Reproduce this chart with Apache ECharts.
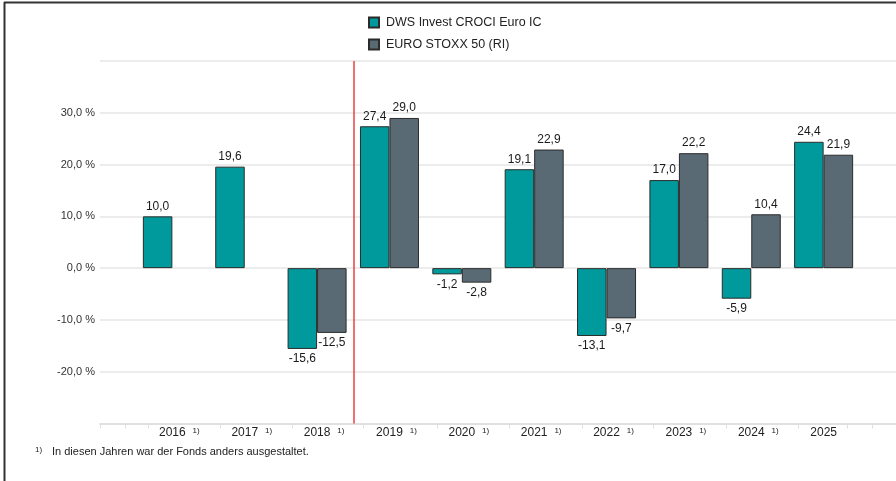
<!DOCTYPE html>
<html>
<head>
<meta charset="utf-8">
<script src="https://cdn.jsdelivr.net/npm/echarts@6/dist/echarts.min.js"></script>
<style>
  html, body { margin: 0; padding: 0; background: #fff; }
  #chart { width: 896px; height: 481px; }
</style>
</head>
<body>
<div id="chart"></div>
<script>
const years = ['2016', '2017', '2018', '2019', '2020', '2021', '2022', '2023', '2024', '2025'];
const footnoted = [true, true, true, true, true, true, true, true, true, false];
const fund = [10.0, 19.6, -15.6, 27.4, -1.2, 19.1, -13.1, 17.0, -5.9, 24.4];
const benchmark = [null, null, -12.5, 29.0, -2.8, 22.9, -9.7, 22.2, 10.4, 21.9];
const yTicks = [-20, -10, 0, 10, 20, 30];
// red divider sits between 2018 and 2019
const dividerAt = 2.5;

const fontFamily = '"Liberation Sans", Arial, sans-serif';
const fmt = v => v.toFixed(1).replace('.', ',');

const chart = echarts.init(document.getElementById('chart'));

const barLabel = {
    show: true,
    position: 'outside',
    distance: 4,
    color: '#1a1a1a',
    fontSize: 12,
    fontFamily: fontFamily,
    formatter: p => fmt(p.value[1])
};

chart.setOption({
    animation: false,
    textStyle: { fontFamily: fontFamily },
    legend: {
        data: ['DWS Invest CROCI Euro IC', 'EURO STOXX 50 (RI)'],
        orient: 'vertical',
        left: 368,
        top: 16,
        padding: 0,
        itemWidth: 10,
        itemHeight: 10,
        itemGap: 9,
        icon: 'rect',
        textStyle: { fontSize: 12.5, color: '#222', padding: [0, 0, 0, 2] }
    },
    grid: { left: 100, right: 0, top: 61, bottom: 57.5, outerBoundsMode: 'none' },
    xAxis: {
        type: 'value',
        min: -1,
        max: 10,
        splitLine: { show: false },
        axisLine: { show: true, onZero: false, lineStyle: { color: '#e0e0e0', width: 2 } },
        axisTick: {
            show: true,
            length: 5,
            lineStyle: { color: '#e0e0e0', width: 1 },
            customValues: [-1, -0.655, -0.337, 0.658, 1.653, 2.634, 3.657, 4.66, 5.66, 6.64, 7.66, 8.65, 9.32, 9.67]
        },
        axisLabel: {
            margin: 3,
            customValues: years.map((y, i) => i),
            formatter: v => {
                const i = Math.round(v);
                return footnoted[i] ? '{pad|}{y|' + years[i] + '}{s|1)}' : '{y|' + years[i] + '}';
            },
            rich: {
                y: { fontSize: 12, color: '#222', fontFamily: fontFamily },
                pad: { width: 14 },
                s: { fontSize: 8, color: '#222', width: 14, align: 'right', verticalAlign: 'top', padding: [0, 0, 4, 0], fontFamily: fontFamily }
            }
        }
    },
    yAxis: {
        type: 'value',
        min: -30,
        max: 40,
        interval: 10,
        axisLine: { show: false },
        axisTick: { show: false },
        splitLine: { lineStyle: { color: '#e6e6e6', width: 1.5 } },
        axisLabel: {
            margin: 5,
            fontSize: 11,
            color: '#333',
            formatter: v => yTicks.includes(v) ? fmt(v) + ' %' : ''
        }
    },
    series: [
        {
            name: 'DWS Invest CROCI Euro IC',
            type: 'bar',
            barWidth: 29.5,
            barGap: '0%',
            data: fund.map((v, i) => [i, v]),
            itemStyle: { color: '#009a9c', borderColor: '#2b2b2b', borderWidth: 1 },
            label: barLabel
        },
        {
            name: 'EURO STOXX 50 (RI)',
            type: 'bar',
            barWidth: 29.5,
            barGap: '0%',
            data: benchmark.map((v, i) => [i, v]),
            itemStyle: { color: '#5a6a75', borderColor: '#2b2b2b', borderWidth: 1 },
            label: barLabel
        },
        {
            name: 'divider',
            type: 'line',
            data: [],
            markLine: {
                silent: true,
                symbol: 'none',
                label: { show: false },
                lineStyle: { color: '#e8423f', width: 1.5, type: 'solid' },
                data: [[{ coord: [dividerAt, 40] }, { coord: [dividerAt, -30] }]]
            }
        }
    ],
    graphic: [
        { type: 'line', shape: { x1: 4, y1: 2.5, x2: 896, y2: 2.5 }, style: { stroke: '#333', lineWidth: 2 } },
        { type: 'line', shape: { x1: 4.5, y1: 2, x2: 4.5, y2: 481 }, style: { stroke: '#333', lineWidth: 2 } },
        {
            type: 'text',
            left: 35,
            top: 446,
            style: {
                text: '{s|1)}{t|In diesen Jahren war der Fonds anders ausgestaltet.}',
                rich: {
                    s: { fontSize: 8, fill: '#222', width: 17, verticalAlign: 'top', fontFamily: fontFamily },
                    t: { fontSize: 11, fill: '#222', fontFamily: fontFamily }
                }
            }
        }
    ]
});

window.addEventListener('resize', () => chart.resize());
</script>
</body>
</html>
